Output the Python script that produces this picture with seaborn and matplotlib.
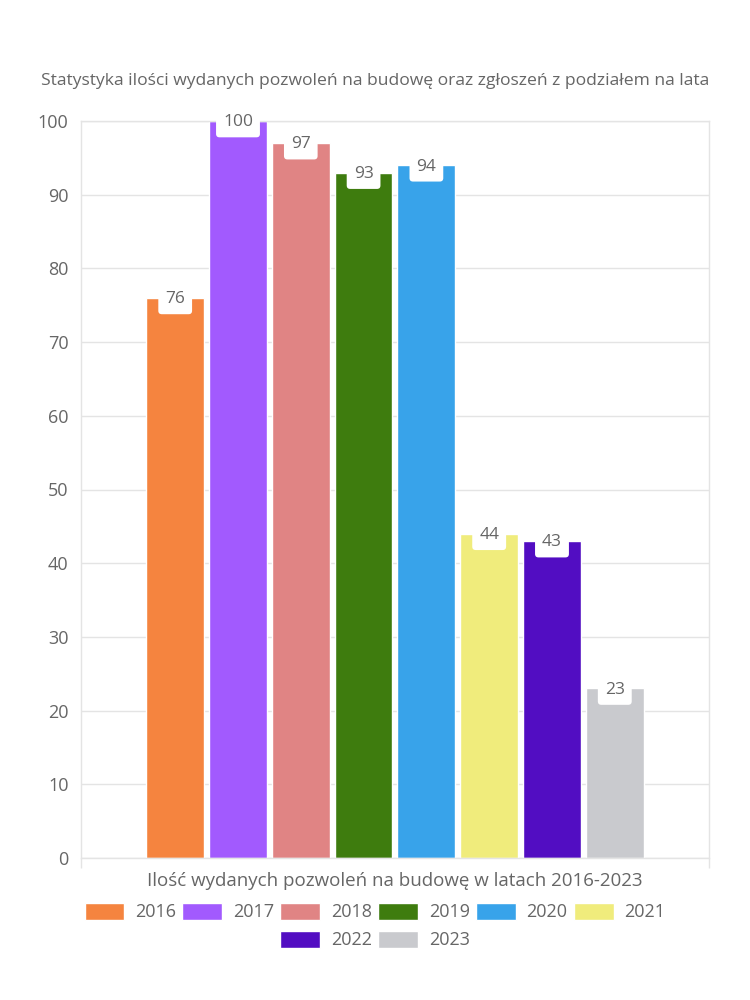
import matplotlib
matplotlib.use("Agg")
import matplotlib.pyplot as plt
import seaborn as sns
import pandas as pd

title = "Statystyka ilości wydanych pozwoleń na budowę oraz zgłoszeń z podziałem na lata"
category = "Ilość wydanych pozwoleń na budowę w latach 2016-2023"
years = ["2016", "2017", "2018", "2019", "2020", "2021", "2022", "2023"]
values = [76, 100, 97, 93, 94, 44, 43, 23]
colors = ["#F5843F", "#A25AFE", "#E08484", "#3E7C0E", "#38A3EA", "#F0EC7C", "#520DC2", "#C9CACE"]
yticks = list(range(0, 101, 10))

sns.set_theme(style="white")
plt.rcParams["font.family"] = ["Open Sans", "DejaVu Sans"]
TXT = "#666666"
GRID = "#E4E4E4"

df = pd.DataFrame({"kat": [category] * len(years), "rok": years, "wartosc": values})

fig = plt.figure(figsize=(7.5, 10), dpi=100)
ax = fig.add_axes([0.108, 0.142, 0.8373, 0.737])
sns.barplot(data=df, x="kat", y="wartosc", hue="rok", hue_order=years,
            palette=colors, width=0.8, gap=0.08, saturation=1, ax=ax, legend=True)

ax.set_ylim(0, 100)
ax.set_xlim(-0.5, 0.5)
ax.set_yticks(yticks)
ax.set_yticklabels([str(t) for t in yticks])
ax.grid(axis="y", color=GRID, linewidth=1)
ax.set_axisbelow(True)
for s in ax.spines.values():
    s.set_color(GRID)
    s.set_linewidth(1)
ax.tick_params(axis="y", length=7, width=1, color=GRID, labelcolor=TXT, labelsize=13, pad=2)
ax.tick_params(axis="x", length=0, labelcolor=TXT, labelsize=13.5, pad=10)
ax.set_xticks([-0.5, 0.5], minor=True)
ax.tick_params(axis="x", which="minor", length=7, width=1, color=GRID, bottom=True)
ax.set_xlabel("")
ax.set_ylabel("")

for cont in ax.containers:
    for bar in cont:
        h = bar.get_height()
        ax.annotate(f"{h:.0f}", (bar.get_x() + bar.get_width() / 2, h),
                    xytext=(0, -1), textcoords="offset points",
                    ha="center", va="center", fontsize=12.5, color=TXT,
                    bbox=dict(boxstyle="round,pad=0.4,rounding_size=0.2",
                              fc="white", ec="none"))

handles, labels = ax.get_legend_handles_labels()
ax.get_legend().remove()
leg_kw = dict(loc="center", frameon=False, fontsize=13, labelcolor=TXT,
              handlelength=2.2, handleheight=1.1, handletextpad=0.6,
              columnspacing=0.35, borderpad=0, borderaxespad=0)
fig.legend(handles[:6], labels[:6], ncol=6, bbox_to_anchor=(0.5, 0.088), **leg_kw)
fig.legend(handles[6:], labels[6:], ncol=2, bbox_to_anchor=(0.5, 0.060), **leg_kw)

fig.text(0.5, 0.919, title, ha="center", va="center", fontsize=12.6, color=TXT)

fig.savefig("out.png", dpi=100, facecolor="white")
